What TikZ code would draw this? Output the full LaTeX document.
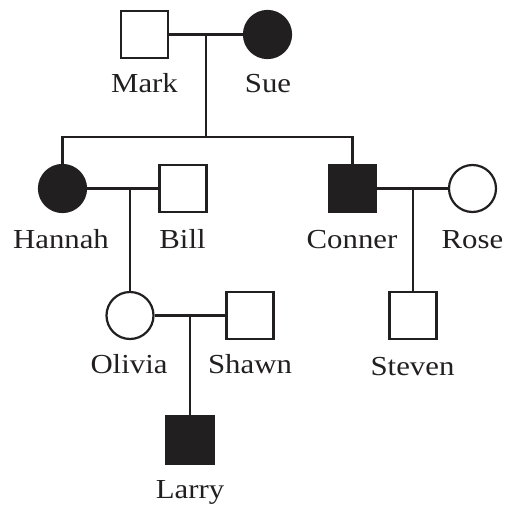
\documentclass[tikz,border=0pt]{standalone}
\usepackage{fontspec}
\setmainfont[FakeStretch=1.12]{Liberation Serif}
\definecolor{ink}{RGB}{34,31,32}
\begin{document}
\begin{tikzpicture}[x=1pt,y=-1pt,line width=2.2pt,
  male/.style={draw=ink,rectangle,minimum size=47pt,inner sep=0pt},
  female/.style={draw=ink,circle,minimum size=47pt,inner sep=0pt},
  aff/.style={fill=ink},
  unaff/.style={fill=white},
  lbl/.style={anchor=base,inner sep=0pt,text=ink,font=\fontsize{27.5pt}{31pt}\selectfont},
  conn/.style={draw=ink,line width=2.2pt}]
\useasboundingbox (0,0) rectangle (506,506);
% nodes
\node[male,unaff] (mark) at (144.5,34.5) {};
\node[female,aff] (sue) at (267.5,34.5) {};
\node[female,aff] (hannah) at (62.5,188.5) {};
\node[male,unaff] (bill) at (183,188.5) {};
\node[male,aff] (conner) at (352.5,188.5) {};
\node[female,unaff] (rose) at (472.5,188.5) {};
\node[female,unaff] (olivia) at (130,315.5) {};
\node[male,unaff] (shawn) at (250,315.5) {};
\node[male,unaff] (steven) at (413,315.5) {};
\node[male,aff] (larry) at (190,440) {};
% labels
\node[lbl] (lmark) at (144.5,92) {Mark};
\node[lbl] (lsue) at (268,92) {Sue};
\node[lbl] (lhannah) at (61,248) {Hannah};
\node[lbl] (lbill) at (182.5,248) {Bill};
\node[lbl] (lconner) at (352,248) {Conner};
\node[lbl] (lrose) at (472.5,248) {Rose};
\node[lbl] (lolivia) at (129,373) {Olivia};
\node[lbl] (lshawn) at (250,373) {Shawn};
\node[lbl] (lsteven) at (412.5,375) {Steven};
\node[lbl] (llarry) at (190,498) {Larry};
% helper coordinates
\coordinate (m1) at (206,34.5);
\coordinate (sib) at (206,137);
\coordinate (m2) at (130,188.5);
\coordinate (m3) at (413,188.5);
\coordinate (m4) at (190,315.5);
% connectors
\draw[conn] (mark.east) -- (sue.west);
\draw[conn] (m1) -- (sib);
\draw[conn] (hannah.north) -- (hannah.north |- sib) -- (conner.north |- sib) -- (conner.north);
\draw[conn] (hannah.east) -- (bill.west);
\draw[conn] (m2) -- (olivia.north);
\draw[conn] (conner.east) -- (rose.west);
\draw[conn] (m3) -- (steven.north);
\draw[conn] (olivia.east) -- (shawn.west);
\draw[conn] (m4) -- (larry.north);
\end{tikzpicture}
\end{document}
